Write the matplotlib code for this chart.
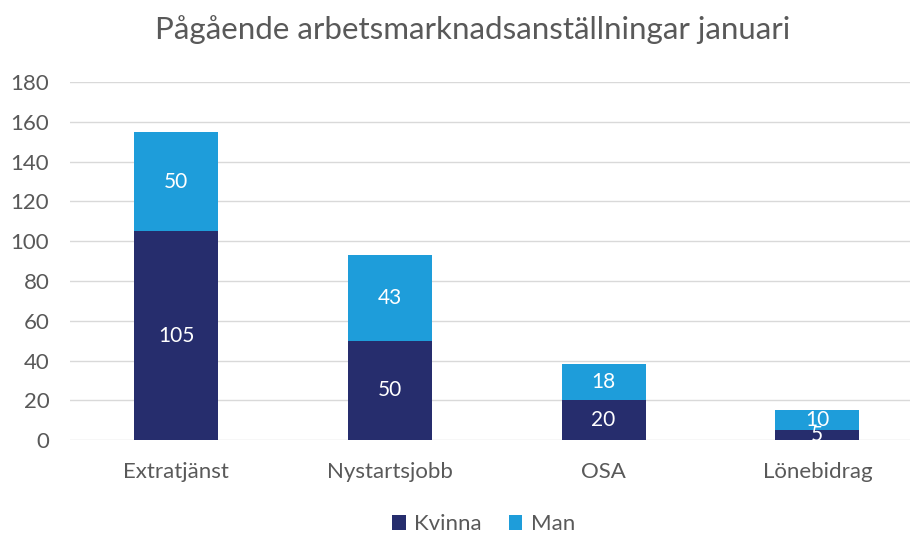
import matplotlib
matplotlib.use('Agg')
import matplotlib.pyplot as plt
import numpy as np

categories = ['Extratjänst', 'Nystartsjobb', 'OSA', 'Lönebidrag']
kvinna = [105, 50, 20, 5]
man = [50, 43, 18, 10]

plt.rcParams['font.family'] = ['Lato', 'DejaVu Sans']
grey = '#595959'
dark = '#262D6D'
light = '#1E9DDA'

fig = plt.figure(figsize=(9.11, 5.34), dpi=100)
ax = fig.add_axes([0.077, 0.176, 0.922, 0.67])

x = np.arange(len(categories))
w = 0.393
b1 = ax.bar(x, kvinna, w, color=dark, label='Kvinna', zorder=3)
b2 = ax.bar(x, man, w, bottom=kvinna, color=light, label='Man', zorder=3)
ax.bar_label(b1, label_type='center', color='white', fontsize=15)
ax.bar_label(b2, label_type='center', color='white', fontsize=15)

ax.set_xlim(-0.496, 3.434)
ax.set_ylim(0, 180)
ax.set_yticks(range(0, 181, 20))
ax.set_xticks(x)
ax.set_xticklabels(categories)
ax.tick_params(axis='both', length=0, labelsize=16, labelcolor=grey)
ax.tick_params(axis='y', pad=15)
ax.tick_params(axis='x', pad=16)
ax.grid(axis='y', color='#d9d9d9', linewidth=1, zorder=0)
for s in ax.spines.values():
    s.set_visible(False)

fig.suptitle('Pågående arbetsmarknadsanställningar januari', x=0.519, y=0.972,
             fontsize=22.5, color=grey)
fig.legend(loc='lower center', bbox_to_anchor=(0.531, -0.038), ncol=2,
           frameon=False, fontsize=16, labelcolor=grey, handlelength=0.6,
           handleheight=0.6, handletextpad=0.4, columnspacing=1.2)

fig.savefig('out.png', dpi=100)
